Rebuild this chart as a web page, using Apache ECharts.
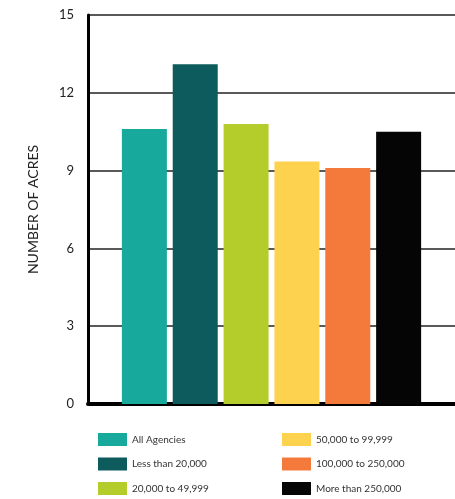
<!DOCTYPE html>
<html><head><meta charset="utf-8">
<script src="https://cdn.jsdelivr.net/npm/echarts@6/dist/echarts.min.js"></script>
<style>html,body{margin:0;padding:0;background:#fff}#c{width:455px;height:499px}</style>
</head><body><div id="c"></div>
<script>
var seriesNames = ['All Agencies','Less than 20,000','20,000 to 49,999','50,000 to 99,999','100,000 to 250,000','More than 250,000'];
var seriesValues = [10.6, 13.1, 10.8, 9.35, 9.1, 10.5];
var seriesColors = ['#17A99B','#0D5B5C','#B4CD2B','#FDD24E','#F47A3C','#050505'];
var yTicks = [0, 3, 6, 9, 12, 15];

var chart = echarts.init(document.getElementById('c'), null, {renderer:'canvas'});
var series = seriesNames.map(function(n,i){
  return {name:n, type:'bar', data:[seriesValues[i]], barWidth:45, barGap:'13%',
    itemStyle:{color:seriesColors[i]}, z:3};
});
var font = 'Lato, "Open Sans", sans-serif';
function leg(names, left){
  return {data:names, orient:'vertical', left:left, top:433, height:80, padding:0,
    itemWidth:29, itemHeight:13, itemGap:11.5, icon:'rect', selectedMode:false,
    textStyle:{fontSize:10, color:'#333', fontFamily:font}};
}
chart.setOption({
  animation:false,
  grid:{left:88, top:15, width:376, height:389},
  legend:[leg(seriesNames.slice(0,3), 98), leg(seriesNames.slice(3), 282)],
  xAxis:{type:'category', data:['All'], offset:5,
    axisLine:{lineStyle:{color:'#000', width:4}}, axisTick:{show:false}, axisLabel:{show:false}},
  yAxis:{type:'value', min:yTicks[0], max:yTicks[yTicks.length-1], interval:3,
    name:'NUMBER OF ACRES', nameLocation:'middle', nameGap:48, nameRotate:90,
    nameTextStyle:{fontSize:14, color:'#222', fontFamily:font},
    axisLine:{show:true, lineStyle:{color:'#000', width:3}}, axisTick:{show:false},
    axisLabel:{fontSize:13, color:'#222', fontFamily:font, margin:14},
    splitLine:{show:true, lineStyle:{color:'#222', width:1.5}}},
  series:series
});
</script></body></html>
